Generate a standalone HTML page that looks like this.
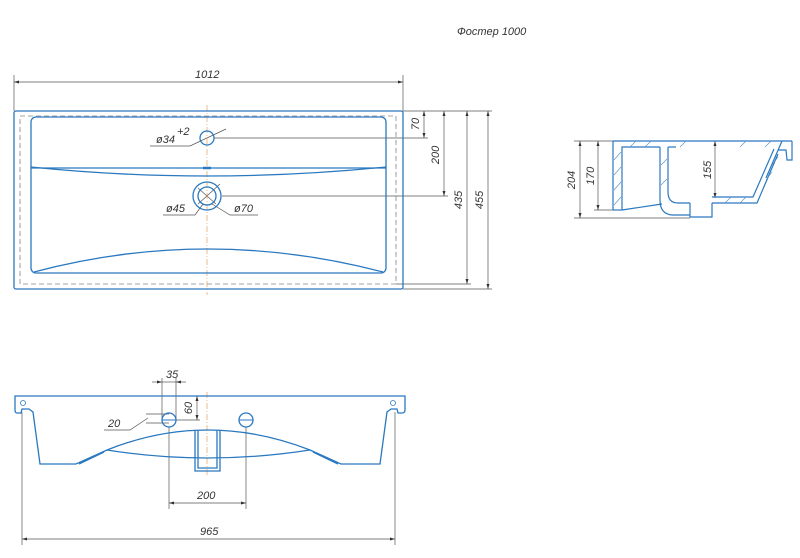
<!DOCTYPE html>
<html><head><meta charset="utf-8"><style>
html,body{margin:0;padding:0;background:#fff;width:800px;height:558px;overflow:hidden}
text{font-family:"Liberation Sans",sans-serif;font-style:italic;font-size:11px;fill:#333}
</style></head><body>
<svg width="800" height="558" viewBox="0 0 800 558" xmlns="http://www.w3.org/2000/svg">
<defs>
<marker id="a" viewBox="0 0 10 10" refX="10" refY="5" markerWidth="8" markerHeight="5" orient="auto-start-reverse" markerUnits="userSpaceOnUse"><path d="M0,2 L10,5 L0,8z" fill="#333"/></marker>
</defs>
<text x="457" y="35" font-size="10">Фостер 1000</text>

<!-- TOP VIEW -->
<g fill="none" stroke="#555" stroke-width="0.7">
<line x1="14" y1="75" x2="14" y2="111"/><line x1="403" y1="75" x2="403" y2="111"/>
<line x1="14" y1="82" x2="403" y2="82" marker-start="url(#a)" marker-end="url(#a)"/>
<line x1="403" y1="111" x2="492" y2="111"/>
<line x1="214" y1="138" x2="428" y2="138"/>
<line x1="222" y1="196" x2="448" y2="196"/>
<line x1="396" y1="284" x2="471" y2="284"/>
<line x1="403" y1="289" x2="492" y2="289"/>
<line x1="424" y1="111" x2="424" y2="138" marker-start="url(#a)" marker-end="url(#a)"/>
<line x1="444" y1="111" x2="444" y2="196" marker-start="url(#a)" marker-end="url(#a)"/>
<line x1="467" y1="111" x2="467" y2="284" marker-start="url(#a)" marker-end="url(#a)"/>
<line x1="488" y1="111" x2="488" y2="289" marker-start="url(#a)" marker-end="url(#a)"/>
<polyline points="150,146 190,146 226,129"/>
<polyline points="163,215 195,215 203,204"/>
<polyline points="258,215 230,215 212,204"/>
<line x1="198" y1="188" x2="216" y2="204"/>
<line x1="198" y1="204" x2="220" y2="184"/>
</g>
<line x1="207" y1="105" x2="207" y2="295" stroke="#e0a060" stroke-width="0.7" stroke-dasharray="6,2,1,2"/>
<text x="156" y="143">ø34</text><text x="177" y="135" font-size="7">+2</text>
<text x="166" y="212">ø45</text><text x="234" y="212">ø70</text>
<text x="195" y="78">1012</text>
<text transform="translate(419,124) rotate(-90)" text-anchor="middle">70</text>
<text transform="translate(439,155) rotate(-90)" text-anchor="middle">200</text>
<text transform="translate(462,200) rotate(-90)" text-anchor="middle">435</text>
<text transform="translate(483,200) rotate(-90)" text-anchor="middle">455</text>
<g fill="none" stroke="#2a78c0" stroke-width="1.3">
<rect x="14" y="111" width="389" height="178" rx="2"/>
<rect x="31" y="117" width="355" height="156" rx="5"/>
<path d="M31,167 Q207,185 386,167"/>
<line x1="31" y1="168" x2="386" y2="168"/>
<path d="M34,272 Q207,226 383,272"/>
<circle cx="207" cy="138" r="7"/>
<circle cx="207" cy="196" r="14"/>
<circle cx="207" cy="196" r="9"/>
</g>
<line x1="203" y1="168" x2="211" y2="168" stroke="#2a78c0" stroke-width="2.5"/>
<rect x="20" y="116" width="376" height="168" fill="none" stroke="#888" stroke-width="0.8" stroke-dasharray="5,3"/>

<!-- SIDE VIEW -->
<g fill="none" stroke="#555" stroke-width="0.7">
<line x1="574" y1="141" x2="613" y2="141"/><line x1="574" y1="218" x2="690" y2="218"/>
<line x1="594" y1="210" x2="622" y2="210"/>
<line x1="580" y1="141" x2="580" y2="218" marker-start="url(#a)" marker-end="url(#a)"/>
<line x1="598" y1="141" x2="598" y2="210" marker-start="url(#a)" marker-end="url(#a)"/>
<line x1="715" y1="141" x2="715" y2="198" marker-start="url(#a)" marker-end="url(#a)"/>
</g>
<text transform="translate(575,180) rotate(-90)" text-anchor="middle">204</text>
<text transform="translate(594,176) rotate(-90)" text-anchor="middle">170</text>
<text transform="translate(711,170) rotate(-90)" text-anchor="middle">155</text>
<g fill="none" stroke="#2a78c0" stroke-width="1.2">
<line x1="613" y1="141" x2="792" y2="141"/>
<line x1="613" y1="141" x2="613" y2="210"/>
<line x1="613" y1="210" x2="622" y2="210"/>
<polyline points="622,210 622,147 660,147"/>
<line x1="622" y1="210" x2="662" y2="204"/>
<path d="M660,147 L660,200 Q660,214 672,215 L690,215"/>
<path d="M668,147 L668,192 Q668,203 678,203 L690,203"/>
<polyline points="690,203 690,217 712,217 712,203"/>
<polyline points="712,203 757,203 778,154"/>
<polyline points="712,197 753,197 774,149"/>
<polyline points="782,141 766,178"/>
<polyline points="792,141 792,160 787,160 786,150 778,150"/>
<line x1="668" y1="147" x2="676" y2="147"/>
</g>
<g stroke="#5a8fc0" stroke-width="0.6">
<line x1="614" y1="160" x2="621" y2="152"/><line x1="614" y1="175" x2="621" y2="167"/><line x1="614" y1="190" x2="621" y2="182"/><line x1="614" y1="205" x2="621" y2="197"/>
<line x1="630" y1="147" x2="636" y2="141"/><line x1="645" y1="147" x2="651" y2="141"/><line x1="680" y1="147" x2="686" y2="141"/><line x1="740" y1="147" x2="746" y2="141"/><line x1="765" y1="147" x2="771" y2="141"/>
<line x1="661" y1="165" x2="667" y2="159"/><line x1="661" y1="185" x2="667" y2="179"/>
<line x1="725" y1="203" x2="731" y2="197"/><line x1="740" y1="203" x2="746" y2="197"/>
<line x1="766" y1="180" x2="772" y2="172"/><line x1="772" y1="165" x2="778" y2="157"/>
</g>

<!-- BOTTOM VIEW -->
<g fill="none" stroke="#555" stroke-width="0.7">
<line x1="22" y1="412" x2="22" y2="545"/><line x1="395" y1="412" x2="395" y2="545"/>
<line x1="22" y1="539" x2="395" y2="539" marker-start="url(#a)" marker-end="url(#a)"/>
<line x1="169" y1="427" x2="169" y2="509"/><line x1="246" y1="427" x2="246" y2="509"/>
<line x1="169" y1="503" x2="246" y2="503" marker-start="url(#a)" marker-end="url(#a)"/>
<line x1="162" y1="378" x2="162" y2="420"/><line x1="176" y1="378" x2="176" y2="420"/>
<line x1="152" y1="382" x2="162" y2="382" marker-end="url(#a)"/><line x1="186" y1="382" x2="176" y2="382" marker-end="url(#a)"/>
<line x1="162" y1="382" x2="176" y2="382"/>
<line x1="176" y1="396" x2="200" y2="396"/><line x1="176" y1="420" x2="200" y2="420"/>
<line x1="197" y1="396" x2="197" y2="420" marker-start="url(#a)" marker-end="url(#a)"/>
<line x1="146" y1="414" x2="169" y2="414"/><line x1="146" y1="423" x2="169" y2="423"/>
<polyline points="104,430 130,430 148,418"/>
</g>
<text x="166" y="378">35</text>
<text transform="translate(192,408) rotate(-90)" text-anchor="middle">60</text>
<text x="108" y="427">20</text>
<text x="197" y="499">200</text>
<text x="200" y="535">965</text>
<line x1="207" y1="392" x2="207" y2="476" stroke="#e0a060" stroke-width="0.7" stroke-dasharray="6,2,1,2"/>
<g fill="none" stroke="#2a78c0" stroke-width="1.3">
<path d="M15,396 L405,396 L405,410 Q405,413 402,413 L398,413 L397,409 L391,409 L387,412 L380,464 L341,464 L310,450 Q207,410 107,450 L76,464 L40,464 L33,412 L29,409 L22,409 L21,413 L17,413 Q15,413 15,410 Z"/>
<path d="M107,450 Q207,466 310,450"/>
<path d="M104,452 L79,464 M313,452 L338,464"/>
<polyline points="195,430 195,471 220,471 220,430"/>
<polyline points="198,430 198,468 217,468 217,430"/>
<circle cx="169" cy="420" r="7"/>
<circle cx="246" cy="420" r="7"/>
<circle cx="23" cy="403" r="2.5" stroke-width="0.8"/>
<circle cx="393" cy="403" r="2.5" stroke-width="0.8"/>
</g>
<line x1="162" y1="420" x2="176" y2="420" stroke="#2a78c0" stroke-width="1"/>
<line x1="239" y1="420" x2="253" y2="420" stroke="#2a78c0" stroke-width="1"/>
</svg>
</body></html>
